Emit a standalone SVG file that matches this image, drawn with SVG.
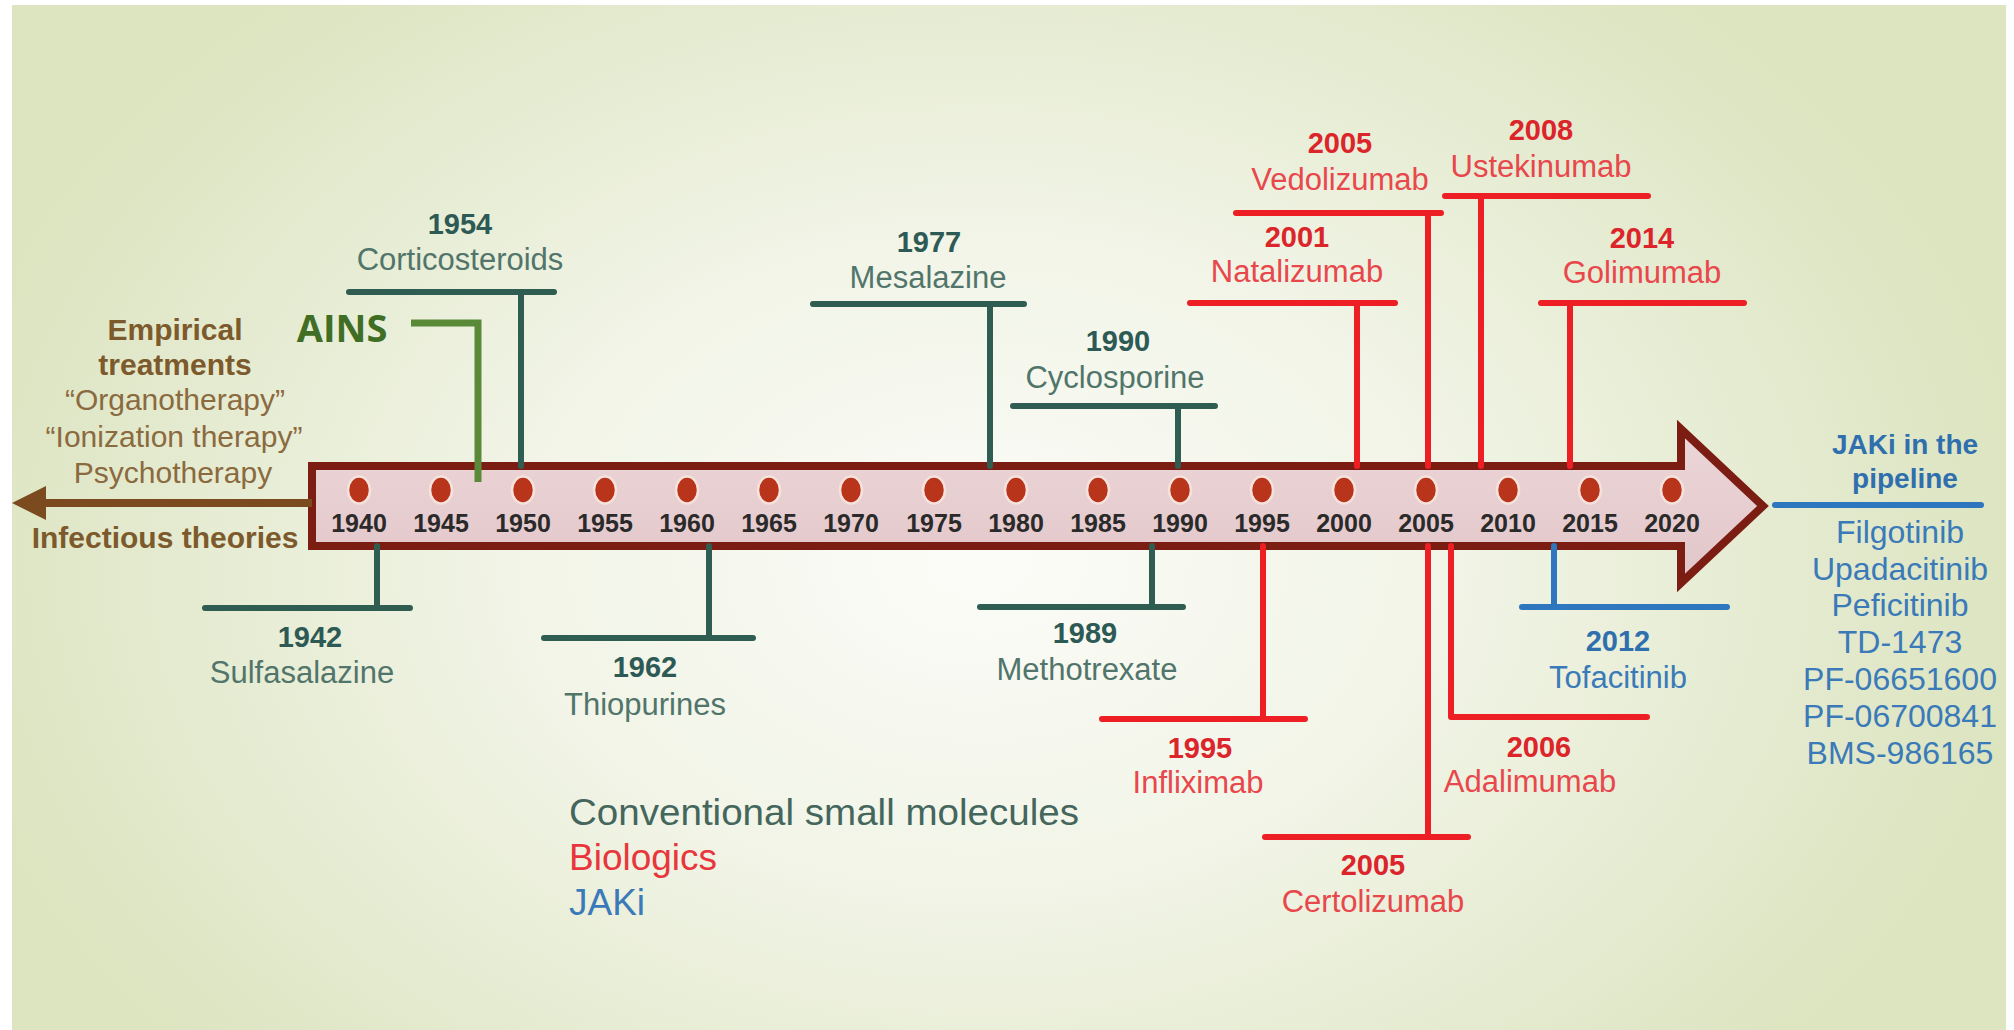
<svg xmlns="http://www.w3.org/2000/svg" width="2014" height="1030" viewBox="0 0 2014 1030">
<defs>
<radialGradient id="bg" gradientUnits="userSpaceOnUse" cx="980" cy="560" r="1000" gradientTransform="translate(980 560) scale(1.05 0.75) translate(-980 -560)">
<stop offset="0" stop-color="#fbfcf8"/>
<stop offset="0.45" stop-color="#f1f4e6"/>
<stop offset="1" stop-color="#dce4c0"/>
</radialGradient>
<linearGradient id="body" x1="0" y1="0" x2="0" y2="1">
<stop offset="0" stop-color="#ecd6d8"/>
<stop offset="1" stop-color="#e2c6c9"/>
</linearGradient>
<style>
text{font-family:"Liberation Sans",Arial,sans-serif;text-anchor:middle}
.yr{font-size:29px;font-weight:bold}
.nm{font-size:31px}
.cv .ln{stroke:#2f5d52;stroke-width:6;fill:none;stroke-linecap:round}
.cv .yr{fill:#2d5a54}
.cv .nm{fill:#51756b}
.bi .ln{stroke:#ee1f24;stroke-width:6;fill:none;stroke-linecap:round}
.bi .yr{fill:#dc242b}
.bi .nm{fill:#e8474c}
.ja .ln{stroke:#2e76bd;stroke-width:6;fill:none;stroke-linecap:round}
.ja .yr{fill:#2f6fae}
.ja .nm{fill:#3a7ab8}
.tick{font-size:25px;font-weight:bold;fill:#2a2a2a}
.dot{fill:#b8341a;stroke:#f6e2dc;stroke-width:2.5}
.emp{fill:#8a6a3e;font-size:30px}
.empb{fill:#7d5a2c;font-size:30px;font-weight:bold}
.jk{fill:#3a7ab8;font-size:32px}
.lg{font-size:37px;text-anchor:start}
</style>
</defs>
<rect x="0" y="0" width="2014" height="1030" fill="#ffffff"/>
<rect x="12" y="5" width="1994" height="1025" fill="url(#bg)"/>

<g id="timeline">
<polygon points="312,466 1681,466 1681,429 1763,506 1681,583 1681,546 312,546" fill="url(#body)" stroke="#7b1d13" stroke-width="8" stroke-linejoin="miter"/>
<g id="dots">
<ellipse class="dot" cx="359" cy="490" rx="11" ry="13.5"/>
<ellipse class="dot" cx="441" cy="490" rx="11" ry="13.5"/>
<ellipse class="dot" cx="523" cy="490" rx="11" ry="13.5"/>
<ellipse class="dot" cx="605" cy="490" rx="11" ry="13.5"/>
<ellipse class="dot" cx="687" cy="490" rx="11" ry="13.5"/>
<ellipse class="dot" cx="769" cy="490" rx="11" ry="13.5"/>
<ellipse class="dot" cx="851" cy="490" rx="11" ry="13.5"/>
<ellipse class="dot" cx="934" cy="490" rx="11" ry="13.5"/>
<ellipse class="dot" cx="1016" cy="490" rx="11" ry="13.5"/>
<ellipse class="dot" cx="1098" cy="490" rx="11" ry="13.5"/>
<ellipse class="dot" cx="1180" cy="490" rx="11" ry="13.5"/>
<ellipse class="dot" cx="1262" cy="490" rx="11" ry="13.5"/>
<ellipse class="dot" cx="1344" cy="490" rx="11" ry="13.5"/>
<ellipse class="dot" cx="1426" cy="490" rx="11" ry="13.5"/>
<ellipse class="dot" cx="1508" cy="490" rx="11" ry="13.5"/>
<ellipse class="dot" cx="1590" cy="490" rx="11" ry="13.5"/>
<ellipse class="dot" cx="1672" cy="490" rx="11" ry="13.5"/>
</g>
<g id="ticks">
<text class="tick" x="359" y="532">1940</text>
<text class="tick" x="441" y="532">1945</text>
<text class="tick" x="523" y="532">1950</text>
<text class="tick" x="605" y="532">1955</text>
<text class="tick" x="687" y="532">1960</text>
<text class="tick" x="769" y="532">1965</text>
<text class="tick" x="851" y="532">1970</text>
<text class="tick" x="934" y="532">1975</text>
<text class="tick" x="1016" y="532">1980</text>
<text class="tick" x="1098" y="532">1985</text>
<text class="tick" x="1180" y="532">1990</text>
<text class="tick" x="1262" y="532">1995</text>
<text class="tick" x="1344" y="532">2000</text>
<text class="tick" x="1426" y="532">2005</text>
<text class="tick" x="1508" y="532">2010</text>
<text class="tick" x="1590" y="532">2015</text>
<text class="tick" x="1672" y="532">2020</text>
</g>
</g>

<g id="empirical">
<line x1="312" y1="503" x2="40" y2="503" stroke="#7b4a1e" stroke-width="8"/>
<polygon points="12,503 46,486 46,520" fill="#7b4a1e"/>
<text class="empb" x="175" y="340">Empirical</text>
<text class="empb" x="175" y="375">treatments</text>
<text class="emp" x="175" y="410">“Organotherapy”</text>
<text class="emp" x="174" y="447">“Ionization therapy”</text>
<text class="emp" x="173" y="483">Psychotherapy</text>
<text class="empb" x="165" y="548">Infectious theories</text>
</g>

<g id="connectors">
<g class="cv">
<path class="ln" d="M521 466V292M349 292H554"/>
<path class="ln" d="M990 466V304M813 304H1024"/>
<path class="ln" d="M1178 466V406M1013 406H1215"/>
<path class="ln" d="M377 546V608M205 608H410"/>
<path class="ln" d="M709 546V638M544 638H753"/>
<path class="ln" d="M1152 546V607M980 607H1183"/>
</g>
<g class="bi">
<path class="ln" d="M1357 466V303M1190 303H1395"/>
<path class="ln" d="M1428 466V213M1236 213H1441"/>
<path class="ln" d="M1481 466V196M1445 196H1648"/>
<path class="ln" d="M1570 466V303M1541 303H1744"/>
<path class="ln" d="M1263 546V719M1102 719H1305"/>
<path class="ln" d="M1428 546V837M1265 837H1468"/>
<path class="ln" d="M1451 546V717M1451 717H1647"/>
</g>
<g class="ja">
<path class="ln" d="M1554 546V607M1522 607H1727"/>
<path class="ln" d="M1775 505H1981"/>
</g>
<path d="M411 323H478V482" fill="none" stroke="#5a8a38" stroke-width="7"/>
</g>

<g id="ains">
<text x="342" y="342" style="font-family:'Open Sans','Liberation Sans',sans-serif;font-weight:bold;font-size:38px;fill:#3f6e24">AINS</text>
</g>

<g id="n1942" class="cv"><text class="yr" x="310" y="647">1942</text><text class="nm" x="302" y="683">Sulfasalazine</text></g>
<g id="n1954" class="cv"><text class="yr" x="460" y="234">1954</text><text class="nm" x="460" y="270">Corticosteroids</text></g>
<g id="n1962" class="cv"><text class="yr" x="645" y="677">1962</text><text class="nm" x="645" y="715">Thiopurines</text></g>
<g id="n1977" class="cv"><text class="yr" x="929" y="252">1977</text><text class="nm" x="928" y="288">Mesalazine</text></g>
<g id="n1989" class="cv"><text class="yr" x="1085" y="643">1989</text><text class="nm" x="1087" y="680">Methotrexate</text></g>
<g id="n1990" class="cv"><text class="yr" x="1118" y="351">1990</text><text class="nm" x="1115" y="388">Cyclosporine</text></g>

<g id="n1995" class="bi"><text class="yr" x="1200" y="758">1995</text><text class="nm" x="1198" y="793">Infliximab</text></g>
<g id="n2001" class="bi"><text class="yr" x="1297" y="247">2001</text><text class="nm" x="1297" y="282">Natalizumab</text></g>
<g id="n2005v" class="bi"><text class="yr" x="1340" y="153">2005</text><text class="nm" x="1340" y="190">Vedolizumab</text></g>
<g id="n2005c" class="bi"><text class="yr" x="1373" y="875">2005</text><text class="nm" x="1373" y="912">Certolizumab</text></g>
<g id="n2006" class="bi"><text class="yr" x="1539" y="757">2006</text><text class="nm" x="1530" y="792">Adalimumab</text></g>
<g id="n2008" class="bi"><text class="yr" x="1541" y="140">2008</text><text class="nm" x="1541" y="177">Ustekinumab</text></g>
<g id="n2014" class="bi"><text class="yr" x="1642" y="248">2014</text><text class="nm" x="1642" y="283">Golimumab</text></g>

<g id="n2012" class="ja"><text class="yr" x="1618" y="651">2012</text><text class="nm" x="1618" y="688">Tofacitinib</text></g>

<g id="pipeline">
<text x="1905" y="454" style="font-size:28px;font-weight:bold;fill:#2f6fae">JAKi in the</text>
<text x="1905" y="488" style="font-size:28px;font-weight:bold;fill:#2f6fae">pipeline</text>
<text class="jk" x="1900" y="543">Filgotinib</text>
<text class="jk" x="1900" y="580">Upadacitinib</text>
<text class="jk" x="1900" y="616">Peficitinib</text>
<text class="jk" x="1900" y="653">TD-1473</text>
<text class="jk" x="1900" y="690">PF-06651600</text>
<text class="jk" x="1900" y="727">PF-06700841</text>
<text class="jk" x="1900" y="764">BMS-986165</text>
</g>

<g id="legend">
<text class="lg" x="569" y="825" fill="#44665c" textLength="510" lengthAdjust="spacingAndGlyphs">Conventional small molecules</text>
<text class="lg" x="569" y="870" fill="#e8363c">Biologics</text>
<text class="lg" x="569" y="915" fill="#3a7ab8">JAKi</text>
</g>
</svg>
